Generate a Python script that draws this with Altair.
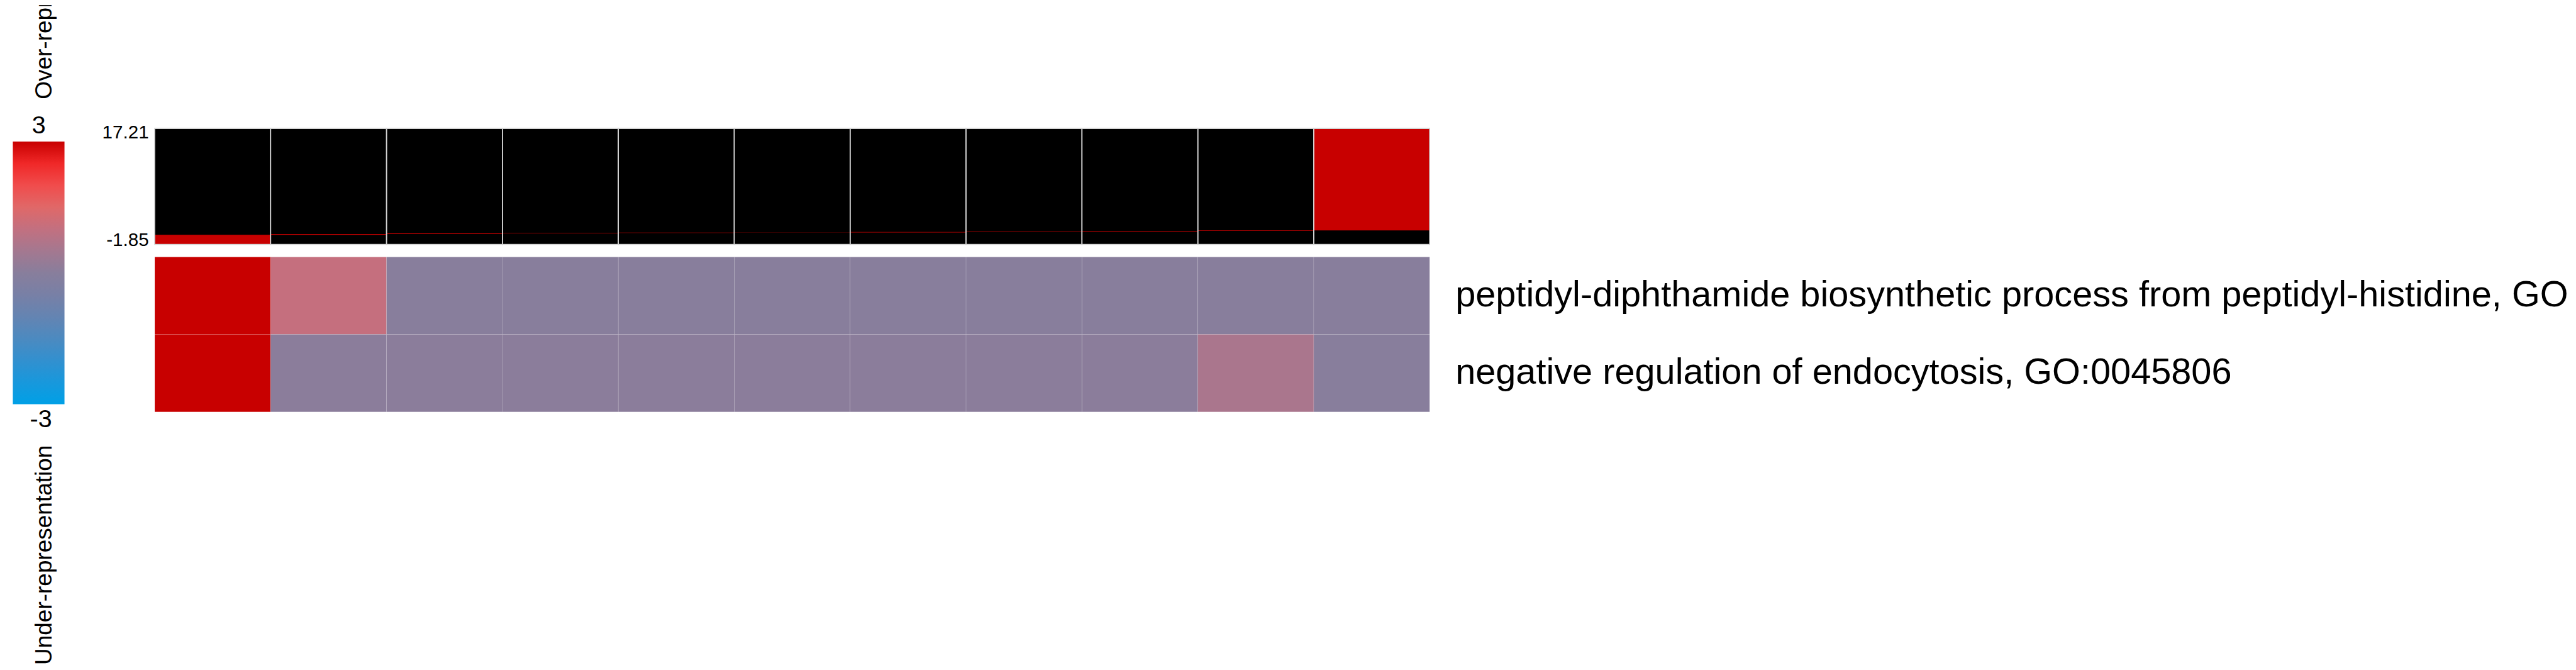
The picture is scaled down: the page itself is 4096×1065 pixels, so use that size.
import altair as alt
import pandas as pd

S = 0.986


def P(v):
    """reference pixel -> chart pixel (page margin 8)"""
    return v * S - 8


# ---------------- data ----------------
BINS = ["bin1", "bin2", "bin3", "bin4", "bin5", "bin6", "bin7", "bin8", "bin9", "bin10", "bin11"]
BIN_MIN = [-1.85, -0.28, -0.15, -0.05, 0.03, 0.08, 0.12, 0.19, 0.26, 0.36, 0.46]
BIN_MAX = [-0.28, -0.15, -0.05, 0.03, 0.08, 0.12, 0.19, 0.26, 0.36, 0.46, 17.21]
BAR_TICKS = [17.21, -1.85]
BAR_TICK_LABELS = ["17.21", "-1.85"]

TERMS = [
    "peptidyl-diphthamide biosynthetic process from peptidyl-histidine, GO:0017183",
    "negative regulation of endocytosis, GO:0045806",
]
ROW1 = [3.0, 1.05, 0.0, 0.0, 0.0, 0.0, 0.0, 0.0, 0.0, 0.0, 0.0]
ROW2 = [3.0, 0.05, 0.05, 0.05, 0.05, 0.05, 0.05, 0.05, 0.05, 0.6, 0.0]

LEGEND_MAX = 3
LEGEND_MIN = -3
LEGEND_TITLES = ["Over-representation", "Under-representation"]
CMAP_VALUES = [-3.0, -2.5, -2.0, -1.5, -1.0, -0.5, 0.0, 0.5, 1.0, 1.5, 2.0, 2.5, 3.0]
CMAP_COLORS = ["#00A0E6", "#1898DC", "#3290CF", "#4C8AC0", "#6484B2", "#7880A6", "#887E9C",
               "#A47890", "#C27080", "#E06868", "#F04C4C", "#F02828", "#C80000"]

# ---------------- tables ----------------
bins_df = pd.DataFrame({"bin": BINS, "lo": BIN_MIN, "hi": BIN_MAX,
                        "axmin": [min(BAR_TICKS)] * len(BINS), "axmax": [max(BAR_TICKS)] * len(BINS)})
heat_df = pd.DataFrame(
    [{"term": TERMS[0], "bin": b, "value": v} for b, v in zip(BINS, ROW1)]
    + [{"term": TERMS[1], "bin": b, "value": v} for b, v in zip(BINS, ROW2)]
)
terms_df = pd.DataFrame({"term": TERMS})
leg_df = pd.DataFrame({"vmax": [LEGEND_MAX], "vmin": [LEGEND_MIN],
                       "tmax": [str(LEGEND_MAX)], "tmin": [str(LEGEND_MIN)],
                       "over": [LEGEND_TITLES[0]], "under": [LEGEND_TITLES[1]]})
tick_top = pd.DataFrame({"v": [BAR_TICKS[0]], "t": [BAR_TICK_LABELS[0]]})
tick_bot = pd.DataFrame({"v": [BAR_TICKS[1]], "t": [BAR_TICK_LABELS[1]]})

# ---------------- scales ----------------
x_scale = alt.Scale(domain=BINS, range=[P(249.5), P(2305.5)], paddingInner=0, paddingOuter=0)
bar_y = alt.Scale(domain=[min(BAR_TICKS), max(BAR_TICKS)], range=[P(394), P(207)], nice=False, zero=False)
heat_y = alt.Scale(domain=TERMS, range=[P(414.3), P(664)], paddingInner=0, paddingOuter=0)
cb_y = alt.Scale(domain=[LEGEND_MIN, LEGEND_MAX], range=[P(651.7), P(228.3)], nice=False, zero=False)
color_scale = alt.Scale(domain=CMAP_VALUES, range=CMAP_COLORS, interpolate="rgb", clamp=True)

FONT = "Liberation Sans"
X = alt.X("bin:N", scale=x_scale, axis=None, sort=BINS)

# ---------------- top panel ----------------
bg = alt.Chart(bins_df).mark_rect(color="black", strokeWidth=0).encode(
    x=X, y=alt.Y("axmin:Q", scale=bar_y, axis=None), y2="axmax:Q")
red = alt.Chart(bins_df).mark_rect(color="#C80000", strokeWidth=0).encode(
    x=X, y=alt.Y("lo:Q", scale=bar_y, axis=None), y2="hi:Q")
grid = alt.Chart(bins_df).mark_rect(fillOpacity=0, stroke="#d4d4d4", strokeWidth=1.6 * S).encode(
    x=X, y=alt.Y("axmin:Q", scale=bar_y, axis=None), y2="axmax:Q")
lab_top = alt.Chart(tick_top).mark_text(align="right", baseline="middle", dy=6.5 * S,
                                        fontSize=30 * S, font=FONT, color="black").encode(
    x=alt.value(P(240)), y=alt.Y("v:Q", scale=bar_y, axis=None), text="t:N")
lab_bot = alt.Chart(tick_bot).mark_text(align="right", baseline="middle", dy=-6.5 * S,
                                        fontSize=30 * S, font=FONT, color="black").encode(
    x=alt.value(P(240)), y=alt.Y("v:Q", scale=bar_y, axis=None), text="t:N")

# ---------------- heatmap ----------------
heat = alt.Chart(heat_df).mark_rect(stroke="white", strokeOpacity=0.12, strokeWidth=1).encode(
    x=X,
    y=alt.Y("term:N", scale=heat_y, axis=None, sort=TERMS),
    color=alt.Color("value:Q", scale=color_scale, legend=None),
)
row_labels = alt.Chart(terms_df).mark_text(
    align="left", baseline="middle", fontSize=58.5 * S, font=FONT, color="black",
    limit=4100 - P(2347), ellipsis=" ").encode(
    x=alt.value(P(2347)),
    y=alt.Y("term:N", scale=heat_y, axis=None, sort=TERMS),
    text="term:N",
)

# ---------------- colour bar legend ----------------
stops = [alt.GradientStop(offset=(LEGEND_MAX - v) / (LEGEND_MAX - LEGEND_MIN), color=c)
         for v, c in sorted(zip(CMAP_VALUES, CMAP_COLORS), key=lambda t: -t[0])]
cbar = alt.Chart(leg_df).mark_rect(
    color=alt.Gradient(gradient="linear", stops=stops, x1=0, x2=0, y1=0, y2=1), strokeWidth=0).encode(
    x=alt.value(P(20.7)), x2=alt.value(P(104)),
    y=alt.Y("vmax:Q", scale=cb_y, axis=None), y2="vmin:Q")
cb_max = alt.Chart(leg_df).mark_text(align="center", baseline="middle", dy=-25.4 * S,
                                     fontSize=40 * S, font=FONT, color="black").encode(
    x=alt.value(P(62.5)), y=alt.Y("vmax:Q", scale=cb_y, axis=None), text="tmax:N")
cb_min = alt.Chart(leg_df).mark_text(align="center", baseline="middle", dy=24.5 * S,
                                     fontSize=40 * S, font=FONT, color="black").encode(
    x=alt.value(P(66)), y=alt.Y("vmin:Q", scale=cb_y, axis=None), text="tmin:N")
over = alt.Chart(leg_df).mark_text(angle=270, align="left", baseline="alphabetic",
                                   fontSize=37.5 * S, font=FONT, color="black").encode(
    x=alt.value(P(83)), y=alt.value(P(160)), text="over:N")
under = alt.Chart(leg_df).mark_text(angle=270, align="left", baseline="alphabetic",
                                    fontSize=37.5 * S, font=FONT, color="black").encode(
    x=alt.value(P(83)), y=alt.value(P(1072)), text="under:N")

chart = alt.layer(
    bg, red, grid, lab_top, lab_bot, heat, row_labels, cbar, cb_max, cb_min, over, under
).resolve_scale(
    x="independent", y="independent", color="independent"
).properties(
    width=4080, height=1052, padding=0,
    autosize=alt.AutoSizeParams(type="none"),
).configure_view(stroke=None)

chart.save("out.html", embed_options={"renderer": "svg", "actions": False})
